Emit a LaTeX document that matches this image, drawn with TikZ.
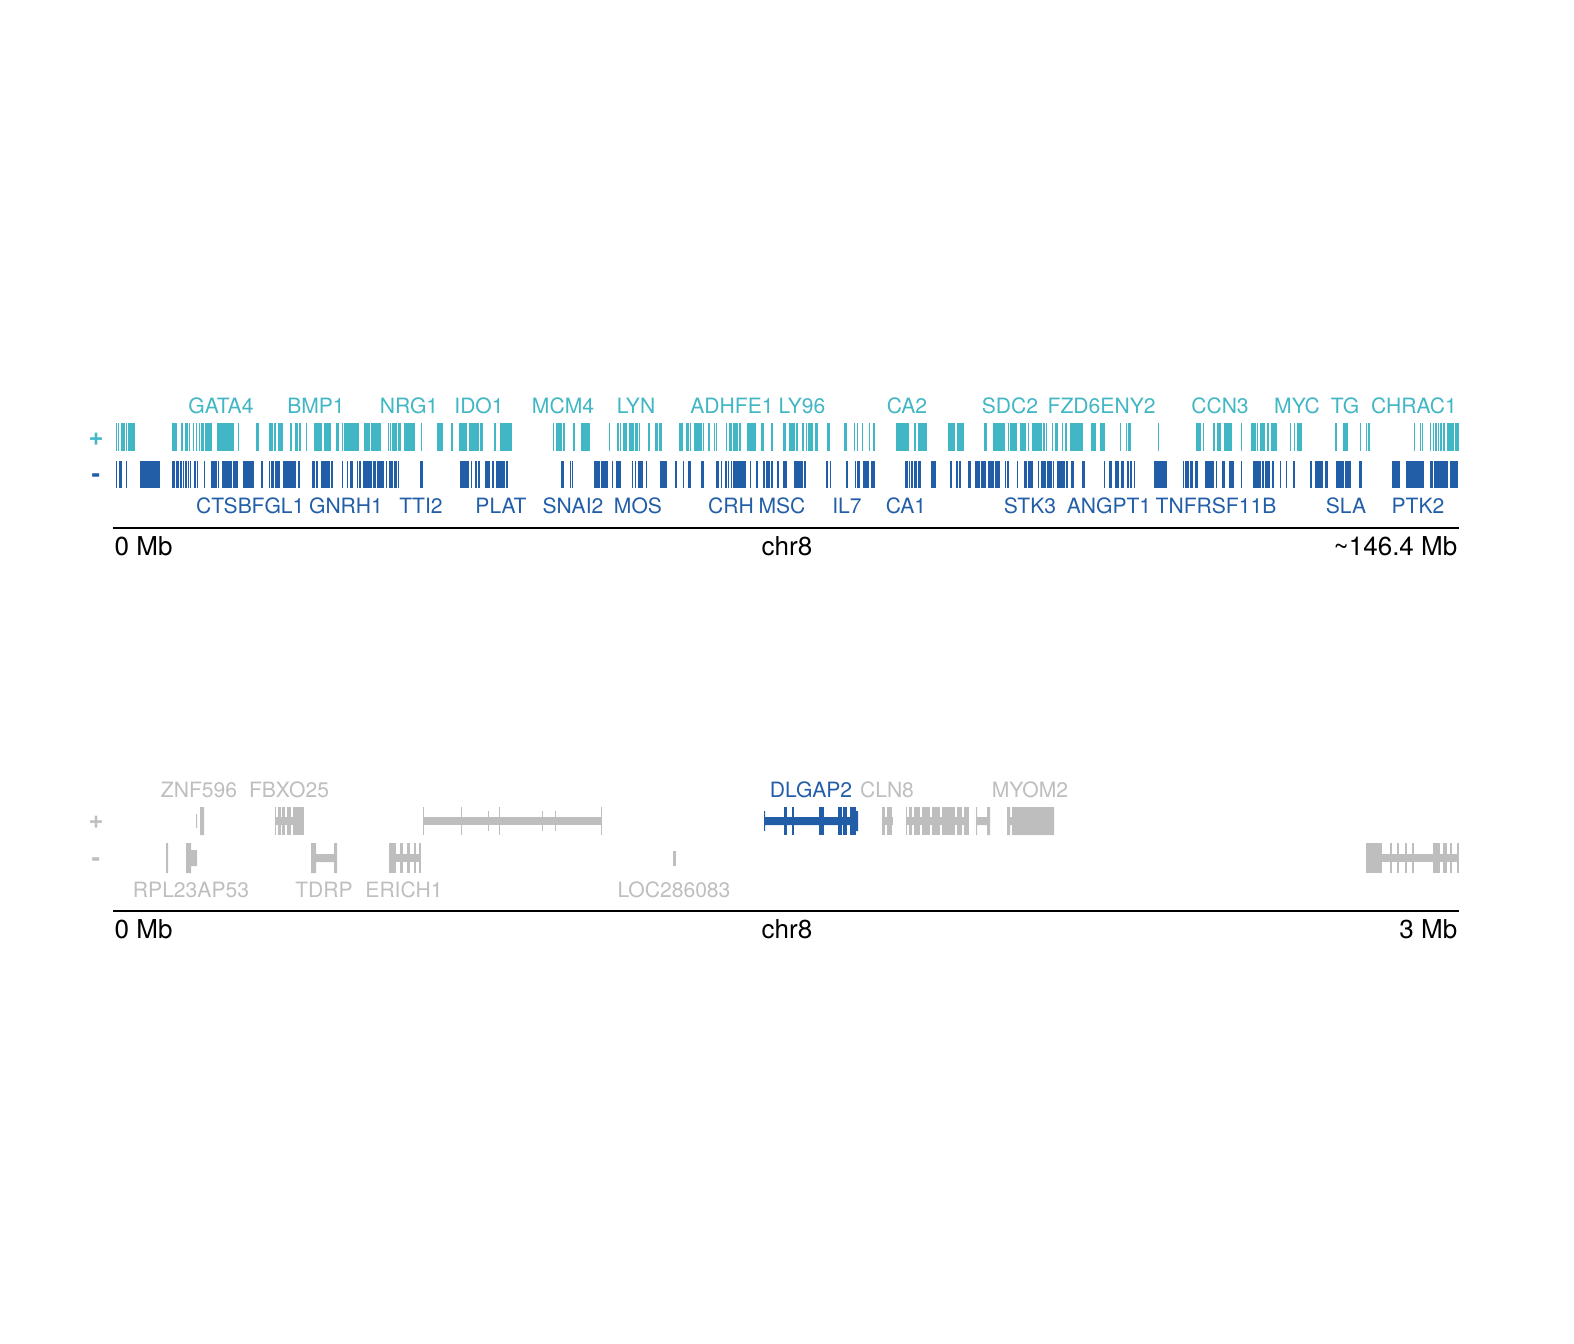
\documentclass[tikz,border=0pt]{standalone}
\usepackage{fontspec}
\setmainfont{TeX Gyre Heros}
\usepackage{tikz}
\definecolor{TealPlus}{RGB}{65,182,196}
\definecolor{AzulMenos}{RGB}{34,94,168}
\definecolor{GrisGen}{RGB}{190,190,190}

\begin{document}
\begin{tikzpicture}[x=0.1mm,y=-0.1mm,
  genlab/.style={font=\fontsize{6}{7}\selectfont,inner sep=0pt,anchor=base},
  axlab/.style={font=\fontsize{7.4}{8}\selectfont,inner sep=0pt,anchor=base},
  strandlab/.style={font=\fontsize{7.3}{8}\selectfont\bfseries,inner sep=0pt,anchor=base}]
  \useasboundingbox (0,0) rectangle (1574,1344);
  % chromosome overview
  \foreach \a/\b in {116/117,118/119,121/125,125.7/126.2,128/135,172/177,181/183,185/188,189/190,193/194,196/197,199/200,201/204,205/206,206/212,217/234,238/239,256/259,269/270,270/273,274/276,278/283,290/292,295/298,299/301,306/307,314/322,324/331,336/339,342/343,344/359,364/370,371/375,375/381,388/389,390/391,392/397,398/401,404/415,421/422,437/443,451/453,459/467,469/479,480/483,494/496,500/512,553/554,556/562,563/565,573/575,581/590,609/610,617/619,620/621,623/627,629/634,635/638,639/640,648/650,655/658,659/662,679/683,686/689,690/691,694/702,703/704,708/710,714/715,716/717,726/727,729/732,733/738,739/741,747/756,761/764,771/773,783/786,789/795,796/798,802/804,806/807,808/813,815/818,827/830,844/847,854/855,857/858,862/863,869/870,873/875,896/909,914/916,918/927,948/955,957/964,984/987,993/1005,1008/1009,1010/1017,1020/1026,1028/1029,1032/1042,1043/1045,1046/1047,1052/1053,1055/1058,1062/1063,1065/1067,1070/1083,1091/1096,1100/1105,1120/1121,1126/1127,1128/1131,1158/1159,1196/1201,1203/1204,1213/1215,1217/1221,1224/1232,1241/1242,1251/1256,1257/1258,1260/1265,1267/1269,1271/1277,1290/1291,1294/1295,1297/1302,1335/1337,1343/1348,1360/1361,1366/1367,1368/1370,1414/1415,1420/1421,1422/1423,1430/1431,1433/1434,1435/1437,1438/1439,1440/1442,1443/1445,1447/1454,1455/1459}
    \fill[TealPlus] (\a,423) rectangle (\b,451);
  \foreach \a/\b in {116/117,119/122,126/127,140/160,172/175,176/179,180/182,183/184,185/187,188/189,190/191,194/196,197/198,204/205,211/217,218/219,222/232,233/238,243/254,261/263,269/270,271/274,275/280,283/296,298/300,312/315,316/318,321/330,331/333,342/343,347/348,350/353,357/358,359/361,363/372,373/376,377/384,386/387,389/393,394/397,398/399,420/423,460/469,471/472,475/477,478/480,485/490,492/494,496/505,506/508,561/564,570/571,572/573,594/600,601/608,612/613,616/621,632/633,635/636,638/643,646/647,660/667,675/677,683/684,688/691,701/704,716/719,721/722,725/727,728/729,731/732,733/746,750/751,756/758,763/765,766/770,771/773,777/779,783/787,794/803,804/806,826/828,830/831,846/848,855/856,857/860,863/869,871/875,905/908,909/910,911/913,914/917,918/921,931/936,950/952,956/958,959/961,968/971,975/980,981/986,988/994,995/1000,1005/1006,1007/1009,1017/1018,1024/1027,1028/1033,1038/1039,1041/1046,1047/1052,1053/1054,1057/1065,1066/1068,1071/1074,1082/1085,1104/1105,1109/1112,1115/1119,1121/1124,1127/1129,1130/1132,1134/1135,1154/1167,1183/1184,1185/1189,1190/1193,1195/1198,1205/1214,1216/1217,1222/1225,1229/1234,1241/1242,1253/1261,1262/1264,1265/1270,1272/1274,1280/1281,1286/1287,1293/1295,1310/1312,1315/1323,1325/1328,1336/1344,1345/1351,1359/1362,1392/1400,1406/1424,1430/1433,1434/1448,1450/1458}
    \fill[AzulMenos] (\a,461) rectangle (\b,488);
  \foreach \x/\t in {221/GATA4,316/BMP1,409/NRG1,479/IDO1,563/MCM4,636/LYN,732/ADHFE1,802/LY96,907/CA2,1010/SDC2,1074/FZD6,1128/ENY2,1220/CCN3,1297/MYC,1345/TG,1414/CHRAC1}
    \node[genlab,TealPlus] (\t) at (\x,413) {\t};
  \foreach \x/\t in {224/CTSB,278/FGL1,346/GNRH1,421/TTI2,501/PLAT,573/SNAI2,638/MOS,731/CRH,782/MSC,847/IL7,906/CA1,1030/STK3,1109/ANGPT1,1216/TNFRSF11B,1346/SLA,1418/PTK2}
    \node[genlab,AzulMenos] (\t) at (\x,513) {\t};
  \node[strandlab,TealPlus] (plusA) at (96,445) {+};
  \node[strandlab,AzulMenos] (minusA) at (96,482) {-};
  \draw[line width=0.6pt] (113,528) -- (1459,528);
  \node[axlab,anchor=base west] (startA) at (114,555) {0 Mb};
  \node[axlab] (chrA) at (787,555) {chr8};
  \node[axlab,anchor=base east] (endA) at (1458,555) {\textasciitilde146.4 Mb};
  % zoomed region
  \fill[GrisGen] (196,814) rectangle (197,828) (200,807) rectangle (204,835);
  \fill[GrisGen] (275,817) rectangle (304,825);
  \foreach \a/\b in {275/276,278/281,282/285,287/291,293/304}
    \fill[GrisGen] (\a,807) rectangle (\b,835);
  \fill[GrisGen] (423,817) rectangle (602,825);
  \foreach \a in {423,461,499,601}
    \fill[GrisGen] (\a,807) rectangle (\a+1,835);
  \foreach \a in {488,542,555}
    \fill[GrisGen] (\a,811) rectangle (\a+1,831);
  \fill[GrisGen] (882,817) rectangle (893,825);
  \foreach \a/\b in {882/885,887/892}
    \fill[GrisGen] (\a,807) rectangle (\b,835);
  \fill[GrisGen] (906,817) rectangle (969,825);
  \foreach \a/\b in {906/907,909/912,914/920,922/930,932/940,942/955,957/962,964/969}
    \fill[GrisGen] (\a,807) rectangle (\b,835);
  \fill[GrisGen] (976,817) rectangle (990,825) (976,807) rectangle (977,835) (987,807) rectangle (990,835);
  \fill[GrisGen] (1007,817) rectangle (1054,825) (1007,807) rectangle (1010,835) (1012,807) rectangle (1054,835);
  \fill[AzulMenos] (764,817) rectangle (858,825) (764,811) rectangle (765,831) (856,811) rectangle (858,831);
  \foreach \a/\b in {784/787,792/794,819/824,838/842,843/847,850/856}
    \fill[AzulMenos] (\a,807) rectangle (\b,835);
  \fill[GrisGen] (166,843) rectangle (168,873) (186,843) rectangle (191,873) (191,850) rectangle (197,866);
  \fill[GrisGen] (311,854) rectangle (337,862) (311,843) rectangle (316,873) (334,843) rectangle (337,873);
  \fill[GrisGen] (389,854) rectangle (421,862);
  \foreach \a/\b in {389/396,400/403,407/410,414/416,419/421}
    \fill[GrisGen] (\a,843) rectangle (\b,873);
  \fill[GrisGen] (673,851) rectangle (676,866);
  \fill[GrisGen] (1366,854) rectangle (1459,862);
  \foreach \a/\b in {1366/1382,1390/1392,1397/1399,1405/1407,1412/1414,1433/1440,1443/1447,1450/1452,1457/1459}
    \fill[GrisGen] (\a,843) rectangle (\b,873);
  \foreach \x/\t in {199/ZNF596,289/FBXO25,887/CLN8,1030/MYOM2}
    \node[genlab,GrisGen] (\t) at (\x,797) {\t};
  \node[genlab,AzulMenos] (DLGAP2) at (811,797) {DLGAP2};
  \foreach \x/\t in {191/RPL23AP53,324/TDRP,404/ERICH1,674/LOC286083}
    \node[genlab,GrisGen] (\t) at (\x,897) {\t};
  \node[strandlab,GrisGen] (plusB) at (96,828) {+};
  \node[strandlab,GrisGen] (minusB) at (96,866) {-};
  \draw[line width=0.6pt] (113,911) -- (1459,911);
  \node[axlab,anchor=base west] (startB) at (114,938) {0 Mb};
  \node[axlab] (chrB) at (787,938) {chr8};
  \node[axlab,anchor=base east] (endB) at (1458,938) {3 Mb};
\end{tikzpicture}
\end{document}
